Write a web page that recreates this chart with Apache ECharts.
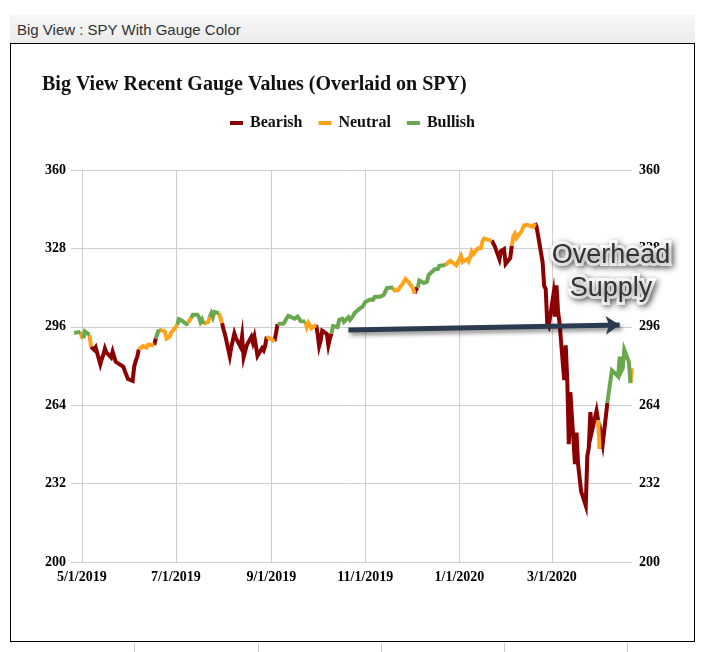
<!DOCTYPE html>
<html><head><meta charset="utf-8">
<script src="https://cdn.jsdelivr.net/npm/echarts@6/dist/echarts.min.js"></script>
<style>
html,body{margin:0;padding:0;background:#fff;width:713px;height:652px;overflow:hidden;}
#hdr{position:absolute;left:10px;top:15px;width:678px;height:28px;padding-left:7px;background:linear-gradient(#f7f7f7,#ebebeb);font:15px "Liberation Sans",Arial,sans-serif;color:#333;line-height:30px;}
#box{position:absolute;left:10px;top:43px;width:683px;height:597px;border:1px solid #000;background:#fff;}
.col{position:absolute;top:643px;width:1px;height:9px;background:#ccc;}
#chart{position:absolute;left:0;top:0;width:713px;height:652px;}
</style></head><body>
<div id="hdr">Big View : SPY With Gauge Color</div>
<div id="box"></div>
<div class="col" style="left:134px"></div>
<div class="col" style="left:258px"></div>
<div class="col" style="left:381px"></div>
<div class="col" style="left:504px"></div>
<div class="col" style="left:627px"></div>
<div id="chart"></div>
<script>
// ---- data ----
const axisRange = ['2019-04-24', '2020-04-22'];
const xTickDates = ['2019-05-01','2019-07-01','2019-09-01','2019-11-01','2020-01-01','2020-03-01'];
const xTickLabels = ['5/1/2019','7/1/2019','9/1/2019','11/1/2019','1/1/2020','3/1/2020'];
const yTicks = [200, 232, 264, 296, 328, 360];

const dates = [
'2019-04-26','2019-04-29','2019-04-30','2019-05-01','2019-05-02','2019-05-03','2019-05-06','2019-05-07','2019-05-08','2019-05-09','2019-05-10',
'2019-05-13','2019-05-14','2019-05-15','2019-05-16','2019-05-17','2019-05-20','2019-05-21','2019-05-22','2019-05-23','2019-05-24',
'2019-05-28','2019-05-29','2019-05-30','2019-05-31','2019-06-03','2019-06-04','2019-06-05','2019-06-06','2019-06-07',
'2019-06-10','2019-06-11','2019-06-12','2019-06-13','2019-06-14','2019-06-17','2019-06-18','2019-06-19','2019-06-20','2019-06-21',
'2019-06-24','2019-06-25','2019-06-26','2019-06-27','2019-06-28','2019-07-01','2019-07-02','2019-07-03','2019-07-05',
'2019-07-08','2019-07-09','2019-07-10','2019-07-11','2019-07-12','2019-07-15','2019-07-16','2019-07-17','2019-07-18','2019-07-19',
'2019-07-22','2019-07-23','2019-07-24','2019-07-25','2019-07-26','2019-07-29','2019-07-30','2019-07-31','2019-08-01','2019-08-02',
'2019-08-05','2019-08-06','2019-08-07','2019-08-08','2019-08-09','2019-08-12','2019-08-13','2019-08-14','2019-08-15','2019-08-16',
'2019-08-19','2019-08-20','2019-08-21','2019-08-22','2019-08-23','2019-08-26','2019-08-27','2019-08-28','2019-08-29','2019-08-30',
'2019-09-03','2019-09-04','2019-09-05','2019-09-06','2019-09-09','2019-09-10','2019-09-11','2019-09-12','2019-09-13',
'2019-09-16','2019-09-17','2019-09-18','2019-09-19','2019-09-20','2019-09-23','2019-09-24','2019-09-25','2019-09-26','2019-09-27',
'2019-09-30','2019-10-01','2019-10-02','2019-10-03','2019-10-04','2019-10-07','2019-10-08','2019-10-09','2019-10-10','2019-10-11',
'2019-10-14','2019-10-15','2019-10-16','2019-10-17','2019-10-18','2019-10-21','2019-10-22','2019-10-23','2019-10-24','2019-10-25',
'2019-10-28','2019-10-29','2019-10-30','2019-10-31','2019-11-01','2019-11-04','2019-11-05','2019-11-06','2019-11-07','2019-11-08',
'2019-11-11','2019-11-12','2019-11-13','2019-11-14','2019-11-15','2019-11-18','2019-11-19','2019-11-20','2019-11-21','2019-11-22',
'2019-11-25','2019-11-26','2019-11-27','2019-11-29','2019-12-02','2019-12-03','2019-12-04','2019-12-05','2019-12-06',
'2019-12-09','2019-12-10','2019-12-11','2019-12-12','2019-12-13','2019-12-16','2019-12-17','2019-12-18','2019-12-19','2019-12-20',
'2019-12-23','2019-12-24','2019-12-26','2019-12-27','2019-12-30','2019-12-31','2020-01-02','2020-01-03',
'2020-01-06','2020-01-07','2020-01-08','2020-01-09','2020-01-10','2020-01-13','2020-01-14','2020-01-15','2020-01-16','2020-01-17',
'2020-01-21','2020-01-22','2020-01-23','2020-01-24','2020-01-27','2020-01-28','2020-01-29','2020-01-30','2020-01-31',
'2020-02-03','2020-02-04','2020-02-05','2020-02-06','2020-02-07','2020-02-10','2020-02-11','2020-02-12','2020-02-13','2020-02-14',
'2020-02-18','2020-02-19','2020-02-20','2020-02-21','2020-02-24','2020-02-25','2020-02-26','2020-02-27','2020-02-28',
'2020-03-02','2020-03-03','2020-03-04','2020-03-05','2020-03-06','2020-03-09','2020-03-10','2020-03-11','2020-03-12','2020-03-13',
'2020-03-16','2020-03-17','2020-03-18','2020-03-19','2020-03-20','2020-03-23','2020-03-24','2020-03-25','2020-03-26','2020-03-27',
'2020-03-30','2020-03-31','2020-04-01','2020-04-02','2020-04-03','2020-04-06','2020-04-07','2020-04-08','2020-04-09',
'2020-04-13','2020-04-14','2020-04-15','2020-04-16','2020-04-17','2020-04-20','2020-04-21','2020-04-22'
];
const spyClose = [
293.5,293.8,294.1,291.9,291.3,294.1,292.7,287.9,287.4,286.6,287.6,
280.7,283.0,284.6,287.1,285.5,283.5,285.9,285.1,281.7,282.1,
279.7,277.8,278.4,274.7,273.9,279.8,282.1,283.8,286.8,
288.2,288.1,287.5,288.7,288.2,288.5,291.3,292.1,294.9,294.5,
294.0,291.2,290.9,292.0,293.7,295.9,296.8,299.1,298.5,
297.1,297.5,298.8,299.5,300.9,300.9,299.9,297.9,299.0,297.2,
298.0,300.0,301.5,299.9,302.1,301.6,300.8,297.5,294.9,292.7,
284.0,287.7,287.9,293.3,291.4,287.8,292.1,283.6,284.3,288.4,
291.9,289.6,292.0,291.8,284.2,287.3,286.4,288.3,292.0,292.1,
290.1,293.3,297.1,297.4,297.3,297.4,299.6,300.5,300.2,
299.3,300.1,300.2,300.2,298.3,298.2,295.9,297.6,297.0,295.4,
296.8,293.2,288.1,290.4,294.4,293.1,288.5,291.3,293.2,296.3,
295.9,298.9,298.4,299.3,298.0,299.9,298.8,299.6,300.4,301.6,
303.3,303.2,304.1,303.3,306.1,307.1,306.8,307.0,308.2,309.0,
308.4,309.0,309.1,309.6,311.8,312.0,311.9,310.8,310.3,311.0,
313.4,314.1,315.5,314.3,311.6,309.6,311.5,312.0,314.9,
313.9,313.5,314.4,317.1,317.3,319.5,319.6,319.6,320.9,320.7,
321.2,321.2,322.9,322.9,321.1,321.9,324.9,322.4,
323.6,322.7,324.5,326.7,325.7,328.0,327.5,328.2,330.9,332.0,
331.3,331.3,331.7,328.8,323.5,326.9,326.6,327.7,321.7,
324.1,329.1,332.9,334.0,332.2,334.7,335.3,337.4,337.1,337.6,
336.7,338.3,337.0,333.5,322.4,312.7,311.5,297.5,296.3,
309.1,300.2,312.9,302.5,297.5,274.2,288.4,274.4,248.1,269.3,
239.9,252.8,240.0,240.5,228.8,223.0,243.2,246.8,261.2,253.4,
261.7,257.8,246.2,251.8,248.2,264.9,265.1,274.0,278.2,
275.7,283.8,277.8,279.1,286.6,281.6,273.0,279.1
];
// gauge reading that starts on each date and holds until the next change
const gaugeChangeDates = [
'2019-04-26','2019-04-30','2019-05-02','2019-05-06','2019-05-07','2019-06-07','2019-06-17','2019-06-18','2019-06-20',
'2019-07-02','2019-07-09','2019-07-11','2019-07-19','2019-07-23','2019-07-29','2019-07-31','2019-08-29','2019-09-03',
'2019-09-05','2019-09-23','2019-09-30','2019-10-10','2019-11-19','2019-12-03','2019-12-05','2019-12-23','2020-01-22',
'2020-02-04','2020-02-19','2020-03-31','2020-04-01','2020-04-06','2020-04-21'
];
const gaugeChangeStates = [
'Bullish','Neutral','Bullish','Neutral','Bearish','Neutral','Bearish','Bullish','Neutral',
'Bullish','Neutral','Bullish','Neutral','Bullish','Neutral','Bearish','Neutral','Bearish',
'Bullish','Neutral','Bearish','Bullish','Neutral','Bearish','Bullish','Neutral','Bearish',
'Neutral','Bearish','Neutral','Bearish','Bullish','Neutral'
];
const gaugeNames = ['Bearish','Neutral','Bullish'];
const gaugeColors = ['#8b0000','#ffa31a','#6aa84f'];
const arrowFrom = ['2019-10-21', 294.7];
const arrowTo = ['2020-04-14', 296.7];

// ---- build ----
const DAY = 86400000;
const cats = [];
for (let t = Date.parse(axisRange[0] + 'T00:00:00Z'); t <= Date.parse(axisRange[1] + 'T00:00:00Z'); t += DAY) {
  cats.push(new Date(t).toISOString().slice(0, 10));
}
const catIdx = {};
cats.forEach((c, i) => { catIdx[c] = i; });
const tickLabelMap = {};
xTickDates.forEach((d, i) => { tickLabelMap[d] = xTickLabels[i]; });

function stateAt(d) {
  let s = gaugeChangeStates[0];
  for (let k = 0; k < gaugeChangeDates.length; k++) {
    if (gaugeChangeDates[k] <= d) s = gaugeChangeStates[k]; else break;
  }
  return s;
}

const serif = '"Liberation Serif","Times New Roman",serif';
const series = gaugeNames.map((name, gi) => {
  const data = [];
  let last = -1;
  for (let i = 0; i < dates.length - 1; i++) {
    if (stateAt(dates[i]) !== name) continue;
    if (last !== i) {
      if (data.length) data.push([catIdx[dates[i]], '-']);
      data.push([catIdx[dates[i]], spyClose[i]]);
    }
    data.push([catIdx[dates[i + 1]], spyClose[i + 1]]);
    last = i + 1;
  }
  return {
    name, type: 'line', data, showSymbol: false, symbol: 'none', connectNulls: false,
    itemStyle: { color: gaugeColors[gi] },
    lineStyle: { width: 4, color: gaugeColors[gi], join: 'miter', miterLimit: 10, cap: 'butt' },
    emphasis: { disabled: true }, silent: true, animation: false
  };
});
series.push({
  name: 'arrow', type: 'line', data: [], silent: true, animation: false,
  markLine: {
    silent: true, animation: false, symbol: ['none', 'arrow'], symbolSize: 14, precision: 2,
    label: { show: false },
    lineStyle: { color: '#2b3a4f', width: 5, type: 'solid', shadowBlur: 4, shadowColor: 'rgba(0,0,0,0.45)', shadowOffsetX: 2, shadowOffsetY: 3 },
    emphasis: { disabled: true },
    data: [[ { coord: [catIdx[arrowFrom[0]], arrowFrom[1]] }, { coord: [catIdx[arrowTo[0]], arrowTo[1]] } ]]
  }
});

const yLabel = { color: '#000', fontFamily: serif, fontWeight: 'bold', fontSize: 14 };
const chart = echarts.init(document.getElementById('chart'), null, { renderer: 'canvas' });
chart.setOption({
  animation: false,
  title: {
    text: 'Big View Recent Gauge Values (Overlaid on SPY)', left: 42, top: 75, padding: 0,
    textStyle: { fontFamily: serif, fontWeight: 'bold', fontSize: 20, color: '#111' }
  },
  legend: {
    data: gaugeNames, left: 230, top: 115, padding: 0, icon: 'rect', itemWidth: 13, itemHeight: 4, itemGap: 16,
    selectedMode: false,
    textStyle: { fontFamily: serif, fontWeight: 'bold', fontSize: 16, color: '#111', padding: [0, 0, 0, 2] }
  },
  grid: { left: 71, right: 81, top: 170, bottom: 90, containLabel: false },
  xAxis: {
    type: 'category', data: cats, boundaryGap: false,
    axisLine: { show: false }, axisTick: { show: false },
    axisLabel: {
      interval: (i, v) => tickLabelMap[v] !== undefined,
      formatter: v => tickLabelMap[v] || '',
      color: '#000', fontFamily: serif, fontWeight: 'bold', fontSize: 14, margin: 8
    },
    splitLine: { show: true, interval: (i, v) => tickLabelMap[v] !== undefined, lineStyle: { color: '#cfcfcf', width: 1 } }
  },
  yAxis: [
    { type: 'value', position: 'left', min: yTicks[0], max: yTicks[yTicks.length - 1], interval: yTicks[1] - yTicks[0],
      axisLine: { show: false }, axisTick: { show: false },
      axisLabel: Object.assign({ margin: 5 }, yLabel),
      splitLine: { show: true, lineStyle: { color: '#cfcfcf', width: 1 } } },
    { type: 'value', position: 'right', min: yTicks[0], max: yTicks[yTicks.length - 1], interval: yTicks[1] - yTicks[0],
      axisLine: { show: false }, axisTick: { show: false },
      axisLabel: Object.assign({ margin: 7 }, yLabel),
      splitLine: { show: false } }
  ],
  series,
  graphic: [{
    type: 'text', x: 611, y: 272, z: 100, silent: true,
    style: {
      text: 'Overhead\nSupply', font: '27px "Liberation Sans", Arial, sans-serif', lineHeight: 33,
      fill: '#333333', stroke: '#ffffff', lineWidth: 6, strokeFirst: true,
      align: 'center', verticalAlign: 'middle',
      textShadowBlur: 6, textShadowColor: 'rgba(0,0,0,0.55)', textShadowOffsetX: 2, textShadowOffsetY: 2
    }
  }]
});
</script>
</body></html>
